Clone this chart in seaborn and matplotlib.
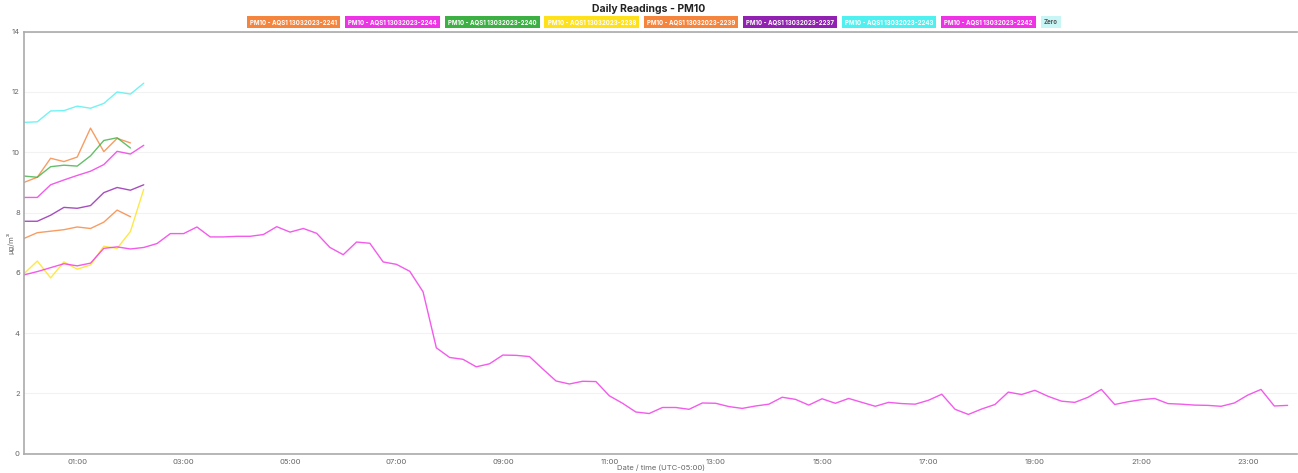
import pandas as pd
import numpy as np
import matplotlib.pyplot as plt
import matplotlib.dates as mdates
import seaborn as sns

# 15-minute readings, 13 Mar 2023
start = pd.Timestamp("2023-03-13 00:00")

series_names = [
    "PM10 - AQS1 13032023-2241",
    "PM10 - AQS1 13032023-2244",
    "PM10 - AQS1 13032023-2240",
    "PM10 - AQS1 13032023-2238",
    "PM10 - AQS1 13032023-2239",
    "PM10 - AQS1 13032023-2237",
    "PM10 - AQS1 13032023-2243",
    "PM10 - AQS1 13032023-2242",
    "Zero",
]
series_colors = ["#f5843c", "#ee33e6", "#3cb043", "#ffe11a", "#f5843c",
                 "#9121b0", "#4ff0f0", "#f032e6", "#c8f6f6"]

pm_2241 = [9.00, 9.17, 9.80, 9.69, 9.84, 10.80, 10.02, 10.46, 10.31]
pm_2244 = [8.50, 8.50, 8.92, 9.08, 9.23, 9.37, 9.59, 10.03, 9.94, 10.23]
pm_2240 = [9.21, 9.17, 9.52, 9.57, 9.54, 9.88, 10.39, 10.48, 10.14]
pm_2238 = [5.97, 6.39, 5.83, 6.36, 6.12, 6.26, 6.88, 6.81, 7.37, 8.77]
pm_2239 = [7.14, 7.33, 7.38, 7.43, 7.52, 7.47, 7.68, 8.08, 7.86]
pm_2237 = [7.71, 7.71, 7.91, 8.17, 8.14, 8.23, 8.66, 8.83, 8.74, 8.92]
pm_2243 = [10.99, 11.01, 11.37, 11.38, 11.53, 11.46, 11.62, 12.00, 11.93, 12.29]
pm_2242 = [
    5.93, 6.04, 6.17, 6.30, 6.23, 6.32, 6.81, 6.86, 6.79, 6.84, 6.97, 7.30,
    7.30, 7.52, 7.19, 7.19, 7.21, 7.21, 7.27, 7.53, 7.35, 7.47, 7.31, 6.84,
    6.60, 7.02, 6.98, 6.36, 6.28, 6.05, 5.37, 3.51, 3.19, 3.13, 2.88, 2.98,
    3.27, 3.26, 3.22, 2.81, 2.41, 2.31, 2.40, 2.39, 1.92, 1.67, 1.38, 1.33,
    1.53, 1.53, 1.47, 1.68, 1.67, 1.56, 1.50, 1.58, 1.64, 1.87, 1.80, 1.61,
    1.82, 1.67, 1.83, 1.70, 1.57, 1.70, 1.66, 1.64, 1.77, 1.97, 1.47, 1.30,
    1.48, 1.63, 2.04, 1.96, 2.10, 1.90, 1.74, 1.70, 1.87, 2.13, 1.63, 1.72,
    1.79, 1.83, 1.66, 1.64, 1.61, 1.60, 1.57, 1.68, 1.94, 2.13, 1.58, 1.60,
]
zero = [0.0] * 96

all_values = [pm_2241, pm_2244, pm_2240, pm_2238, pm_2239, pm_2237,
              pm_2243, pm_2242, zero]

frames = []
for name, vals in zip(series_names, all_values):
    t = pd.date_range(start, periods=len(vals), freq="15min")
    frames.append(pd.DataFrame({"time": t, "value": vals, "series": name}))
data = pd.concat(frames, ignore_index=True)

sns.set_theme(style="white")
plt.rcParams["font.family"] = ["Inter", "DejaVu Sans"]

fig = plt.figure(figsize=(12.98, 4.73), dpi=100)
ax = fig.add_axes([0.0185, 0.041, 0.981, 0.892])

sns.lineplot(data=data, x="time", y="value", hue="series",
             hue_order=series_names, palette=series_colors,
             linewidth=1.0, alpha=0.8, legend=False, ax=ax, zorder=1)

ax.set_ylim(0, 14)
ax.set_yticks(range(0, 15, 2))
ax.set_xlim(start, start + pd.Timedelta(minutes=23 * 60 + 56))
ax.set_xticks([start + pd.Timedelta(hours=h) for h in range(1, 24, 2)])
ax.xaxis.set_major_formatter(mdates.DateFormatter("%H:%M"))
ax.tick_params(axis="y", labelsize=5.5, colors="#666666", length=0, pad=3)
ax.tick_params(axis="x", labelsize=5.5, colors="#666666", length=2,
               color="#cccccc", pad=2)

ax.grid(axis="y", color="#f2f2f2", linewidth=0.8)
for side in ["left", "bottom", "top"]:
    ax.spines[side].set_color("#aaaaaa")
    ax.spines[side].set_linewidth(1.2)
ax.spines["right"].set_visible(False)

ax.set_xlabel("Date / time (UTC-05:00)", fontsize=5.5, color="#666666", va="center")
ax.xaxis.set_label_coords(0.5, -0.033)
ax.set_ylabel("µg/m³", fontsize=5.5, color="#666666", va="center")
ax.yaxis.set_label_coords(-0.011, 0.5)

fig.text(0.5, 0.98, "Daily Readings - PM10", ha="center", va="center",
         fontsize=7.5, fontweight="bold", color="#222222")

# legend boxes, laid out in one centred row
renderer = fig.canvas.get_renderer()
labels = []
for name, col in zip(series_names, series_colors):
    txt_col = "#555555" if name == "Zero" else "white"
    t = fig.text(0, 0.953, name, ha="left", va="center", fontsize=4.4,
                 fontweight="bold", color=txt_col,
                 bbox=dict(boxstyle="square,pad=0.5", facecolor=col,
                           edgecolor="none"))
    labels.append(t)
widths = [t.get_window_extent(renderer).width for t in labels]
gap = 11
total = sum(widths) + gap * (len(widths) - 1)
x = (fig.bbox.width - total) / 2 + 5
for t, w in zip(labels, widths):
    t.set_x(x / fig.bbox.width)
    x += w + gap

fig.savefig("out.png", dpi=100)
